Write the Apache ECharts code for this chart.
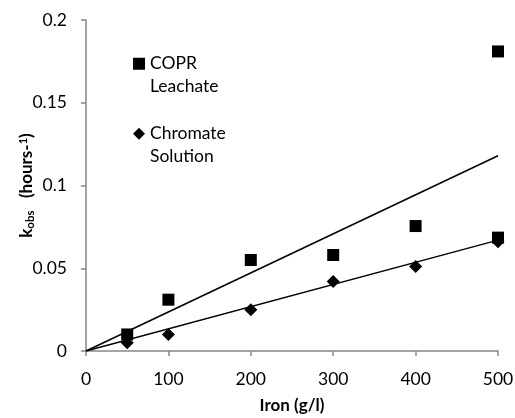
<!DOCTYPE html>
<html>
<head>
<meta charset="utf-8">
<script src="https://cdn.jsdelivr.net/npm/echarts@6/dist/echarts.min.js"></script>
<style>
  html, body { margin: 0; padding: 0; background: #fff; }
  #chart { width: 515px; height: 418px; }
</style>
</head>
<body>
<div id="chart"></div>
<script>
  // values
  var iron = [50, 100, 200, 300, 400, 500];
  var coprPoints = [[50, 0.010], [100, 0.031], [200, 0.055], [300, 0.058], [400, 0.0755], [500, 0.0685], [500, 0.181]];
  var chromate = [0.005, 0.010, 0.025, 0.042, 0.051, 0.066];
  // linear trend lines through the origin (end value at 500)
  var coprTrend = [[0, 0], [500, 0.118]];
  var chromateTrend = [[0, 0], [500, 0.067]];

  var font = 'Lato, "Liberation Sans", sans-serif';
  var axisGrey = '#868686';

  var chart = echarts.init(document.getElementById('chart'));
  chart.setOption({
    animation: false,
    textStyle: { fontFamily: font },
    grid: { left: 86, right: 17, top: 20, bottom: 67, outerBoundsMode: 'none', containLabel: false },
    legend: {
      orient: 'vertical',
      left: 133,
      top: 30,
      padding: 0,
      itemGap: 2.5,
      itemWidth: 12,
      itemHeight: 12,
      data: [
        { name: 'COPR Leachate', icon: 'rect', itemStyle: { color: '#000', opacity: 1 } },
        { name: 'Chromate Solution', icon: 'diamond', itemStyle: { color: '#000', opacity: 1 } }
      ],
      // blank first line keeps the icon level with the first word
      formatter: function (name) {
        return ' \n' + name.replace(' ', '\n');
      },
      textStyle: {
        fontFamily: font,
        fontSize: 17.5,
        color: '#000',
        lineHeight: 22.5
      }
    },
    xAxis: {
      type: 'value',
      min: 0,
      max: 500,
      interval: 100,
      name: 'Iron (g/l)',
      nameLocation: 'middle',
      nameGap: 46,
      nameTextStyle: { fontFamily: font, fontSize: 17, fontWeight: 'bold', color: '#000' },
      axisLine: { show: true, lineStyle: { color: axisGrey, width: 1.5 } },
      axisTick: { show: true, inside: false, length: 5, lineStyle: { color: axisGrey, width: 1.5 } },
      axisLabel: { fontFamily: font, fontSize: 17.5, color: '#000', margin: 19 },
      splitLine: { show: false }
    },
    yAxis: {
      type: 'value',
      min: 0,
      max: 0.2,
      interval: 0.05,
      name: '{b|k}{sub|obs}{b|   (hours-}{sup|1}{b|)}',
      nameLocation: 'middle',
      nameGap: 50,
      nameMoveOverlap: false,
      nameTextStyle: {
        fontFamily: font,
        color: '#000',
        rich: {
          b: { fontFamily: font, fontSize: 17, fontWeight: 'bold', color: '#000' },
          sub: { fontFamily: font, fontSize: 11.5, fontWeight: 'bold', color: '#000', padding: [7, 0, 0, 0] },
          sup: { fontFamily: font, fontSize: 11, fontWeight: 'bold', color: '#000', padding: [0, 0, 7, 0] }
        }
      },
      axisLine: { show: true, lineStyle: { color: axisGrey, width: 1.5 } },
      axisTick: { show: true, inside: false, length: 5, lineStyle: { color: axisGrey, width: 1.5 } },
      axisLabel: { fontFamily: font, fontSize: 17.5, color: '#000', margin: 19 },
      splitLine: { show: false }
    },
    series: [
      {
        name: 'COPR Leachate',
        type: 'scatter',
        symbol: 'rect',
        symbolSize: 12,
        itemStyle: { color: '#000', opacity: 1 },
        data: coprPoints,
        z: 3
      },
      {
        name: 'Chromate Solution',
        type: 'scatter',
        symbol: 'diamond',
        symbolSize: 13,
        itemStyle: { color: '#000', opacity: 1 },
        data: iron.map(function (x, i) { return [x, chromate[i]]; }),
        z: 3
      },
      {
        name: 'COPR trend',
        type: 'line',
        showSymbol: false,
        lineStyle: { color: '#000', width: 1.5 },
        data: coprTrend,
        z: 2
      },
      {
        name: 'Chromate trend',
        type: 'line',
        showSymbol: false,
        lineStyle: { color: '#000', width: 1.5 },
        data: chromateTrend,
        z: 2
      }
    ]
  });
</script>
</body>
</html>
